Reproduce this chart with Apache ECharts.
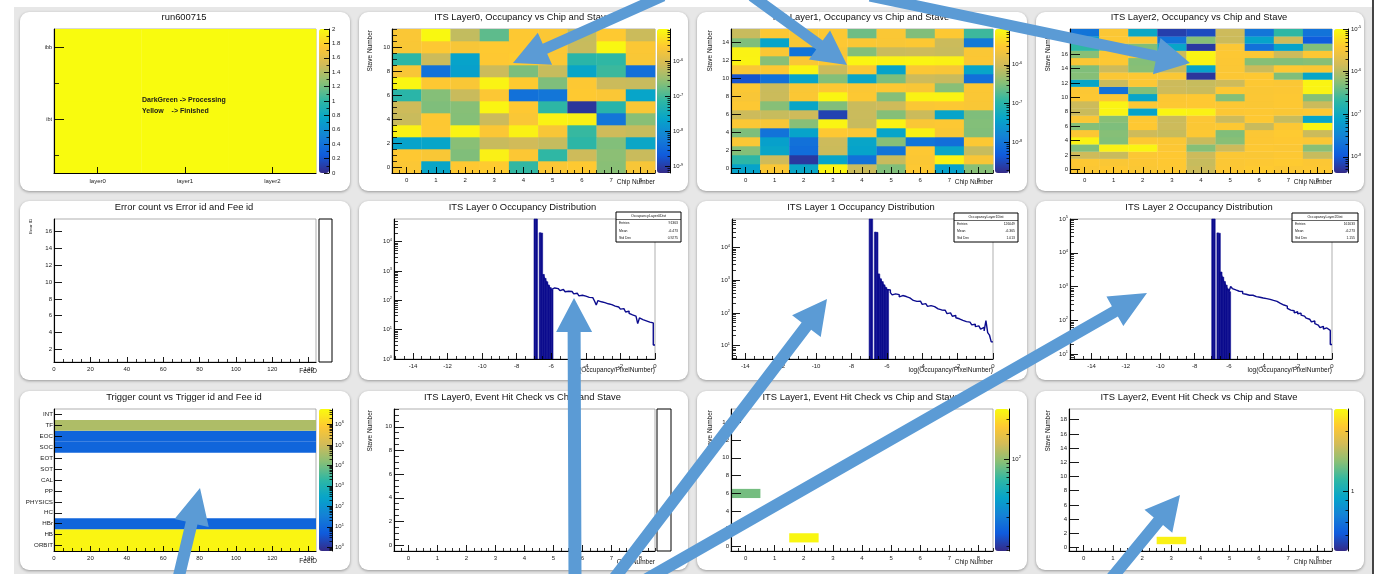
<!DOCTYPE html>
<html>
<head>
<meta charset="utf-8">
<title>ITS QC overview run600715</title>
<script src="https://cdn.jsdelivr.net/npm/echarts@6.0.0/dist/echarts.min.js"></script>
<style>
html,body{margin:0;padding:0;background:#fff;overflow:hidden;}
#page{position:relative;width:1380px;height:574px;}
#bg{position:absolute;left:14px;top:7px;width:1358px;height:567px;background:#e7e7e7;}
#edge{position:absolute;left:1372px;top:0;width:2px;height:574px;background:#444;}
.card{position:absolute;background:#fff;border-radius:9px;box-shadow:0 1px 3px rgba(0,0,0,0.35);}
#c{position:absolute;left:0;top:0;width:1380px;height:574px;}
</style>
</head>
<body>
<div id="page"><div id="bg"></div><div id="edge"></div><div id="c"></div></div>
<script>
// ================= DATA =================
const PANEL_TITLES = [
  'run600715', 'ITS Layer0, Occupancy vs Chip and Stave', 'ITS Layer1, Occupancy vs Chip and Stave', 'ITS Layer2, Occupancy vs Chip and Stave',
  'Error count vs Error id and Fee id', 'ITS Layer 0 Occupancy Distribution', 'ITS Layer 1 Occupancy Distribution', 'ITS Layer 2 Occupancy Distribution',
  'Trigger count vs Trigger id and Fee id', 'ITS Layer0, Event Hit Check vs Chip and Stave', 'ITS Layer1, Event Hit Check vs Chip and Stave', 'ITS Layer2, Event Hit Check vs Chip and Stave'
];

// run status panel
const STATUS_LAYERS = ['layer0', 'layer1', 'layer2'];
const STATUS_BARRELS = ['ibt', 'ibb'];
const STATUS_IBT = [2, 2, 2];
const STATUS_IBB = [2, 2, 2];
const STATUS_NOTE = ['DarkGreen -> Processing', 'Yellow    -> Finished'];

// chip / stave occupancy maps: log10(occupancy), one row per stave (stave 0 first), one value per chip
const CHIPS = [0, 1, 2, 3, 4, 5, 6, 7, 8];
const L0_LOG10_OCC = [
  [-5.62,-7.60,-5.58,-5.55,-7.10,-5.63,-5.57,-6.60,-5.66],
  [-5.58,-5.64,-6.65,-5.18,-5.61,-7.12,-6.12,-6.58,-6.15],
  [-7.66,-7.62,-6.60,-6.16,-6.10,-6.18,-7.15,-6.64,-7.58],
  [-5.16,-5.60,-5.14,-5.62,-5.17,-5.65,-7.08,-6.11,-6.17],
  [-6.15,-5.59,-6.62,-6.13,-5.63,-5.16,-5.19,-8.30,-6.60],
  [-6.12,-6.66,-6.61,-5.13,-5.58,-7.14,-9.06,-7.20,-5.64],
  [-7.18,-6.62,-6.15,-5.61,-8.38,-8.30,-5.57,-5.63,-7.62],
  [-5.12,-5.59,-5.64,-5.15,-5.56,-6.66,-5.60,-6.14,-6.16],
  [-5.65,-8.36,-7.70,-6.13,-6.68,-6.17,-7.60,-7.05,-8.40],
  [-7.15,-6.13,-7.66,-5.58,-5.55,-5.62,-7.18,-7.12,-5.64],
  [-5.64,-5.60,-5.66,-5.57,-5.58,-5.61,-6.16,-5.11,-5.62],
  [-5.63,-5.10,-6.20,-6.85,-5.59,-5.62,-6.18,-5.57,-6.14]
];
const L1_LOG10_OCC = [
  [-7.40,-5.58,-7.35,-5.14,-6.05,-6.50,-5.55,-7.42,-6.46],
  [-6.95,-6.02,-8.65,-7.38,-8.05,-6.06,-5.57,-5.16,-5.60],
  [-6.48,-7.36,-8.10,-6.04,-7.40,-8.02,-5.55,-7.35,-6.07],
  [-5.58,-7.44,-8.06,-6.03,-7.37,-6.47,-8.00,-8.08,-5.56],
  [-6.52,-8.03,-7.41,-5.54,-5.59,-7.38,-5.17,-5.58,-6.50],
  [-5.57,-5.61,-6.46,-5.14,-6.06,-5.16,-5.58,-5.55,-6.49],
  [-6.03,-6.07,-6.02,-8.55,-6.05,-6.48,-6.04,-7.39,-6.51],
  [-5.55,-6.47,-7.36,-6.50,-6.05,-6.02,-5.58,-5.56,-5.59],
  [-5.60,-6.04,-5.57,-5.13,-5.56,-6.48,-5.16,-5.15,-5.58],
  [-5.57,-6.05,-5.59,-5.55,-5.58,-5.56,-5.60,-6.46,-5.57],
  [-8.40,-8.06,-7.38,-6.49,-7.36,-6.52,-6.03,-6.06,-8.08],
  [-5.59,-5.56,-5.14,-6.04,-5.58,-7.40,-5.57,-5.60,-7.37],
  [-5.15,-6.46,-5.58,-5.56,-5.13,-5.16,-5.14,-5.17,-5.57],
  [-5.16,-5.57,-8.03,-5.60,-6.49,-6.05,-6.03,-6.06,-5.58],
  [-6.51,-7.39,-5.58,-5.55,-5.57,-5.59,-5.56,-6.04,-7.95],
  [-6.06,-5.57,-5.59,-5.56,-6.60,-5.58,-6.50,-5.55,-6.85]
];
const L2_LOG10_OCC = [
  [-5.45,-5.42,-5.46,-5.43,-5.88,-5.44,-5.41,-5.45,-5.43],
  [-5.43,-5.46,-5.44,-5.42,-5.90,-5.45,-5.43,-5.41,-5.44],
  [-5.86,-5.89,-5.44,-5.42,-5.87,-5.45,-5.46,-5.43,-5.90],
  [-6.30,-5.08,-5.06,-5.44,-6.27,-5.87,-5.43,-5.45,-6.25],
  [-5.07,-6.29,-5.43,-5.46,-5.89,-6.26,-5.44,-5.42,-5.45],
  [-5.44,-6.27,-5.86,-5.90,-5.43,-6.30,-5.45,-5.41,-5.88],
  [-6.28,-6.31,-5.42,-5.87,-5.45,-5.43,-5.89,-5.44,-5.06],
  [-5.46,-6.26,-5.43,-5.88,-5.44,-5.86,-5.42,-5.90,-7.10],
  [-5.89,-5.06,-7.12,-5.05,-5.08,-5.44,-5.43,-5.46,-5.42],
  [-5.87,-5.07,-5.45,-5.43,-5.42,-5.44,-5.46,-5.43,-5.88],
  [-5.43,-5.45,-7.09,-5.44,-5.42,-6.28,-5.45,-5.43,-6.27],
  [-5.44,-7.72,-6.29,-5.86,-5.89,-5.43,-5.46,-5.44,-5.07],
  [-7.08,-5.88,-5.44,-5.87,-5.90,-5.86,-5.43,-5.45,-5.06],
  [-6.27,-5.45,-5.43,-5.46,-8.28,-5.44,-5.42,-6.30,-7.10],
  [-6.30,-5.87,-6.26,-5.89,-7.12,-5.45,-5.88,-5.43,-5.46],
  [-5.45,-5.43,-6.28,-5.86,-5.07,-5.44,-6.27,-6.29,-6.26],
  [-6.26,-5.44,-5.46,-5.88,-5.06,-5.43,-5.45,-5.87,-5.44],
  [-6.69,-6.28,-6.30,-7.09,-8.25,-5.45,-7.72,-7.12,-6.29],
  [-7.10,-5.43,-5.46,-7.70,-6.27,-5.88,-7.12,-5.86,-7.95],
  [-7.68,-5.45,-7.05,-8.20,-8.10,-5.87,-7.66,-6.69,-7.70]
];

// occupancy distributions: counts per bin of log(Occupancy/PixelNumber), bins of 0.1 starting at -7.0
const DIST_FIRST_EDGE = -7.0;
const DIST_BIN_WIDTH = 0.1;
const DIST_FILLED_BINS = 11;   // bins drawn filled (spikes and first block)
const DIST_OUTLINE_FROM = 5;   // first bin of the outlined tail
const L0_DIST_COUNTS = [90000,85000,0,20000,19500,760,560,430,330,270,230,
  263,240,251,229,214,234,209,195,204,186,200,178,166,174,155,141,148,132,138,120,
  126,112,123,107,95,69,98,89,93,83,87,76,81,71,74,63,68,59,55,50,
  52,46,40,43,36,32,34,29,26,16,25,22,24,20,22,18,21,17,3];
const L1_DIST_COUNTS = [120000,110000,0,29500,29000,1550,1100,900,720,600,520,
  501,417,355,380,331,363,309,339,295,316,275,288,251,240,257,224,214,229,200,182,
  191,170,158,166,148,155,138,132,141,123,115,120,105,95,100,87,79,83,71,66,
  69,59,63,54,50,52,46,43,45,38,40,35,32,36,28,58,25,21,13];
const L2_DIST_COUNTS = [200000,190000,0,38900,38000,2690,1900,1400,1100,850,700,
  1000,871,794,832,724,676,708,617,589,617,550,525,550,490,501,468,479,447,457,427,
  437,407,417,380,389,355,363,331,316,302,282,251,263,224,200,214,191,166,178,155,
  162,141,132,138,115,107,102,89,95,79,72,69,60,66,55,59,52,50,19];
const STAT_LABELS = ['Entries', 'Mean', 'Std Dev'];
const STAT_NAMES = ['OccupancyLayer0Dist', 'OccupancyLayer1Dist', 'OccupancyLayer2Dist'];
const L0_STATS = ['91363', '-6.473', '0.9275'];
const L1_STATS = ['126049', '-6.365', '1.013'];
const L2_STATS = ['161633', '-6.273', '1.155'];

// trigger counts per trigger type (same for every Fee id 0..143)
const TRIGGER_NAMES = ['ORBIT', 'HB', 'HBr', 'HC', 'PHYSICS', 'PP', 'CAL', 'SOT', 'EOT', 'SOC', 'EOC', 'TF', 'INT'];
const TRIGGER_COUNTS = [4500000, 4500000, 8, 0, 0, 0, 0, 0, 0, 8, 8, 40000, 0];
const FEE_ID_RANGE = [0, 144];

// event hit check (non-empty cells)
const L1_HIT_CHIP = [0, 2];
const L1_HIT_STAVE = [6, 1];
const L1_HIT_COUNT = [83, 380];
const L2_HIT_CHIP = [3];
const L2_HIT_STAVE = [1];
const L2_HIT_COUNT = [2.5];

// ================= STYLE / HELPERS =================
const FONT = '"Liberation Sans", Arial, Helvetica, sans-serif';
const BIRD = ['#352a87','#0f5cdd','#1481d6','#06a4ca','#2eb7a4','#87bf77','#d1bb59','#fec832','#f9fb0e'];
const NAVY = '#0c0c8e';
const ARROW_COLOR = '#5b9bd5';
const RICH = {
  n: {fontSize: 6, fontFamily: FONT, color: '#222', lineHeight: 8},
  s: {fontSize: 4, fontFamily: FONT, color: '#222', verticalAlign: 'top', lineHeight: 4}
};
const SUP = e => '{n|10}{s|' + e + '}';

const CARDS = [
  [20,12,330,179],[359,12,329,179],[697,12,330,179],[1036,12,328,179],
  [20,201,330,179],[359,201,329,179],[697,201,330,179],[1036,201,328,179],
  [20,391,330,179],[359,391,329,179],[697,391,330,179],[1036,391,328,179]
];
CARDS.forEach(r => {
  const d = document.createElement('div');
  d.className = 'card';
  d.style.left = r[0] + 'px'; d.style.top = r[1] + 'px';
  d.style.width = r[2] + 'px'; d.style.height = r[3] + 'px';
  document.getElementById('page').insertBefore(d, document.getElementById('c'));
});

const grid = [], xAxis = [], yAxis = [], series = [], visualMap = [], graphic = [];

function range(a, b, step) { const out = []; for (let i = 0; a + i * step <= b + 1e-9; i++) out.push(+(a + i * step).toFixed(4)); return out; }
function without(arr, ex) { return arr.filter(v => !ex.some(e => Math.abs(e - v) < 1e-6)); }
function logMinors(lo, hi) {
  const out = [];
  for (let n = Math.floor(lo) - 1; n <= Math.ceil(hi); n++)
    for (let k = 2; k <= 9; k++) { const v = n + Math.log10(k); if (v >= lo && v <= hi) out.push(v); }
  return out;
}
function rawLogMinors(lo, hi) {
  const out = [];
  for (let n = Math.floor(Math.log10(lo)) - 1; n <= Math.ceil(Math.log10(hi)); n++)
    for (let k = 2; k <= 9; k++) { const v = k * Math.pow(10, n); if (v >= lo && v <= hi) out.push(v); }
  return out;
}
function addGrid(r, show) {
  grid.push({left: r[0], top: r[1], width: r[2], height: r[3], show: show !== false, borderColor: '#8c8c8c', borderWidth: 0.7,
    backgroundColor: 'rgba(0,0,0,0)', containLabel: false, outerBoundsMode: 'none'});
  return grid.length - 1;
}
function axisPair(dim, gi, o) {
  const list = dim === 'x' ? xAxis : yAxis;
  const main = {
    gridIndex: gi, type: o.type || 'value', min: o.min, max: o.max, position: o.pos,
    axisLine: {show: o.line !== false, onZero: false, lineStyle: {color: '#000', width: o.lw || 1.1}},
    axisTick: (o.majors && o.majors.length) ? {show: true, inside: true, length: o.majLen || 5, customValues: o.majors, lineStyle: {color: '#000', width: 0.9}} : {show: false},
    axisLabel: o.labels ? {show: true, customValues: o.labels, formatter: o.fmt, fontSize: o.fs || 6, fontFamily: FONT, color: '#222', margin: o.margin == null ? 3 : o.margin, rich: RICH} : {show: false},
    splitLine: {show: false}, splitArea: {show: false}, minorTick: {show: false}, z: 10, silent: true
  };
  if (o.type === 'log') main.logBase = 10;
  list.push(main);
  const idx = list.length - 1;
  if (o.minors && o.minors.length) {
    const sec = Object.assign({}, main, {
      axisLine: {show: false, onZero: false},
      axisTick: {show: true, inside: true, length: o.minLen || 2.5, customValues: o.minors, lineStyle: {color: '#000', width: 0.8}},
      axisLabel: {show: false}
    });
    list.push(sec);
  }
  return idx;
}
function colorbar(rect, o) {
  const g = addGrid(rect, false);
  xAxis.push({gridIndex: g, type: 'value', show: false, min: 0, max: 1, axisLine: {onZero: false}});
  axisPair('y', g, Object.assign({pos: 'right', majLen: 5, minLen: 2.5, margin: 3, lw: 1}, o));
}
function vm(si, dim, min, max, r) {
  return {type: 'continuous', seriesIndex: si, dimension: dim, min: min, max: max, inRange: {color: BIRD},
    orient: 'vertical', left: r[0], top: r[1], itemWidth: r[2], itemHeight: r[3], calculable: false,
    hoverLink: false, realtime: false, padding: 0, text: null, z: 4};
}
function cellSeries(xi, yi, data, w, h) {
  return {type: 'custom', xAxisIndex: xi, yAxisIndex: yi, data: data, encode: {x: 0, y: 1}, z: 2, silent: true,
    renderItem: function (params, api) {
      const x = api.value(0), y = api.value(1);
      const a = api.coord([x - w / 2, y + h / 2]), b = api.coord([x + w / 2, y - h / 2]);
      return {type: 'rect', shape: {x: a[0], y: a[1], width: b[0] - a[0] + 0.3, height: b[1] - a[1] + 0.3}, style: {fill: api.visual('color')}};
    }};
}
function txt(x, y, s, o) {
  o = o || {};
  const el = {type: 'text', x: x, y: y, silent: true, z: 20,
    style: {text: s, fontSize: o.fs || 9.5, fontFamily: FONT, fill: o.fill || '#111', align: o.align || 'center',
      verticalAlign: o.va || 'middle', fontWeight: o.fw || 'normal'}};
  if (o.rot) el.rotation = o.rot;
  graphic.push(el);
}
function yTitle(x, yTop, s, fs) { txt(x, yTop, s, {fs: fs || 6.5, align: 'right', rot: Math.PI / 2}); }
function emptyBox(r) {
  graphic.push({type: 'rect', shape: {x: r[0], y: r[1], width: r[2], height: r[3]}, style: {fill: '#fff', stroke: '#000', lineWidth: 1}, z: 5, silent: true});
}
function statBox(x, y, w, h, name, vals) {
  const hh = 7.5, rh = (h - hh) / 3;
  graphic.push({type: 'rect', shape: {x: x, y: y, width: w, height: h}, style: {fill: '#fff', stroke: '#000', lineWidth: 1}, z: 15, silent: true});
  graphic.push({type: 'line', shape: {x1: x, y1: y + hh, x2: x + w, y2: y + hh}, style: {stroke: '#000', lineWidth: 0.6}, z: 16, silent: true});
  txt(x + w / 2, y + hh / 2, name, {fs: 3.6});
  STAT_LABELS.forEach((lab, k) => {
    const yy = y + hh + rh * (k + 0.5);
    txt(x + 3, yy, lab, {fs: 3.4, align: 'left'});
    txt(x + w - 3, yy, vals[k], {fs: 3.4, align: 'right'});
  });
}

const CHIP_MINORS = without(range(-0.5, 8.5, 0.25), CHIPS);
function chipX(g) {
  return axisPair('x', g, {min: -0.5, max: 8.5, pos: 'bottom', labels: CHIPS, majors: CHIPS, majLen: 6, minors: CHIP_MINORS, minLen: 3, margin: 4});
}
function staveY(g, n, withMinors) {
  const majors = range(0, n - 1, 2);
  return axisPair('y', g, {min: -0.5, max: n - 0.5, pos: 'left', labels: majors, majors: majors, majLen: 10,
    minors: withMinors ? without(range(-0.5, n - 0.5, 0.5), majors) : null, minLen: 5, margin: 2});
}
function occPanel(rect, cb, rows, minors, lo, hi) {
  const g = addGrid(rect);
  const xi = chipX(g), yi = staveY(g, rows.length, minors);
  const data = [];
  rows.forEach((row, s) => row.forEach((v, c) => data.push([CHIPS[c], s, v])));
  const si = series.length;
  series.push(cellSeries(xi, yi, data, 1, 1));
  visualMap.push(vm(si, 2, lo, hi, cb));
  const labs = range(Math.ceil(lo), Math.floor(hi), 1);
  colorbar(cb, {min: lo, max: hi, labels: labs, fmt: v => SUP(Math.round(v)), majors: labs, minors: logMinors(lo, hi)});
}
function distPanel(rect, xmin, ymin, ymax, counts) {
  const g = addGrid(rect);
  const xl = range(-14, 0, 2);
  const xi = axisPair('x', g, {min: xmin, max: 0, pos: 'bottom', labels: xl, majors: xl, majLen: 6,
    minors: without(range(-15, 0, 0.5), xl).filter(v => v >= xmin), minLen: 3, margin: 4});
  const decades = [1, 10, 100, 1000, 10000, 100000].filter(v => v >= ymin && v <= ymax);
  const yi = axisPair('y', g, {type: 'log', min: ymin, max: ymax, pos: 'left', labels: decades,
    fmt: v => SUP(Math.round(Math.log10(v))), majors: decades, majLen: 8, minors: rawLogMinors(ymin, ymax), minLen: 4, margin: 2});
  const fill = [], outline = [];
  counts.forEach((c, i) => {
    const x0 = +(DIST_FIRST_EDGE + i * DIST_BIN_WIDTH).toFixed(2);
    const x1 = +(x0 + DIST_BIN_WIDTH).toFixed(2);
    if (c > 0 && i < DIST_FILLED_BINS) fill.push([x0, x1, c]);
    if (i >= DIST_OUTLINE_FROM) outline.push([x0, c]);
  });
  outline.push([0, counts[counts.length - 1]]);
  series.push({type: 'custom', xAxisIndex: xi, yAxisIndex: yi, data: fill, encode: {x: [0, 1], y: 2}, z: 3, silent: true,
    renderItem: function (params, api) {
      const a = api.coord([api.value(0), api.value(2)]);
      const b = api.coord([api.value(1), ymin]);
      const cs = params.coordSys;
      const r = echarts.graphic.clipRectByRect({x: a[0], y: a[1], width: b[0] - a[0], height: b[1] - a[1]},
        {x: cs.x, y: cs.y, width: cs.width, height: cs.height});
      return r ? {type: 'rect', shape: r, style: {fill: NAVY, stroke: NAVY, lineWidth: 0.6}} : null;
    }});
  series.push({type: 'line', xAxisIndex: xi, yAxisIndex: yi, data: outline, step: 'end', symbol: 'none',
    lineStyle: {color: NAVY, width: 1.4}, clip: true, z: 3, silent: true});
}
const FEE_LABELS = range(0, 140, 20);
function feeX(g) {
  return axisPair('x', g, {min: FEE_ID_RANGE[0], max: FEE_ID_RANGE[1], pos: 'bottom', labels: FEE_LABELS, majors: FEE_LABELS, majLen: 5,
    minors: without(range(0, 140, 5), FEE_LABELS), minLen: 3, margin: 4});
}

// ================= PANELS =================
// P1 run status
(function () {
  const g = addGrid([54, 29, 262, 144]);
  const xi = axisPair('x', g, {min: 0, max: 3, pos: 'bottom', labels: [0.5, 1.5, 2.5], fmt: v => STATUS_LAYERS[Math.floor(v)], majors: [0.5, 1.5, 2.5], majLen: 6, margin: 5});
  const yi = axisPair('y', g, {min: 0, max: 4, pos: 'left', labels: [1.5, 3.5], fmt: v => STATUS_BARRELS[Math.round((v - 1.5) / 2)], majors: [1.5, 3.5], majLen: 10, minors: [0.5, 2.5], minLen: 5, margin: 2, fs: 5.5});
  const data = [];
  STATUS_LAYERS.forEach((l, i) => { data.push([i + 0.5, 1, STATUS_IBT[i]]); data.push([i + 0.5, 3, STATUS_IBB[i]]); });
  const si = series.length;
  series.push(cellSeries(xi, yi, data, 1, 2));
  visualMap.push(vm(si, 2, 0, 2, [319, 29, 10, 144]));
  const labs = range(0, 2, 0.2);
  colorbar([319, 29, 10, 144], {min: 0, max: 2, labels: labs, fmt: v => String(+v.toFixed(1)), majors: labs, minors: without(range(0, 2, 0.1), labs)});
  txt(142, 100, STATUS_NOTE[0], {fs: 7, fw: 'bold', align: 'left', fill: '#1a1a1a'});
  txt(142, 111, STATUS_NOTE[1], {fs: 7, fw: 'bold', align: 'left', fill: '#1a1a1a'});
})();
// P2-P4 occupancy maps
occPanel([392, 29, 263, 144], [657, 29, 13, 144], L0_LOG10_OCC, true, -9.18, -5.07);
occPanel([731, 29, 262, 144], [995, 29, 14, 144], L1_LOG10_OCC, false, -8.78, -5.08);
occPanel([1070, 29, 262, 144], [1334, 29, 14, 144], L2_LOG10_OCC, false, -8.38, -5.0);
// P5 error counts (empty)
(function () {
  const g = addGrid([54, 219, 262, 143]);
  feeX(g);
  const yl = range(2, 16, 2);
  axisPair('y', g, {min: 0.5, max: 17.5, pos: 'left', labels: yl, majors: yl, majLen: 8, margin: 2});
  emptyBox([319, 219, 13, 143]);
})();
// P6-P8 occupancy distributions
distPanel([394, 219, 261, 140], -15.1, 1, Math.pow(10, 4.77), L0_DIST_COUNTS);
distPanel([732, 219, 261, 140], -14.75, Math.pow(10, 0.59), Math.pow(10, 4.87), L1_DIST_COUNTS);
distPanel([1070, 219, 262, 140], -15.25, Math.pow(10, 0.85), 100500, L2_DIST_COUNTS);
statBox(616, 212, 65, 30, STAT_NAMES[0], L0_STATS);
statBox(954, 213, 64, 29, STAT_NAMES[1], L1_STATS);
statBox(1292, 213, 66, 29, STAT_NAMES[2], L2_STATS);
// P9 trigger counts
(function () {
  const g = addGrid([54, 409, 262, 142]);
  const xi = feeX(g);
  const yl = range(0, 12, 1);
  const yi = axisPair('y', g, {min: -0.5, max: 12.5, pos: 'left', labels: yl, fmt: v => TRIGGER_NAMES[Math.round(v)], majors: yl, majLen: 8, margin: 1, fs: 6.2});
  const data = [];
  TRIGGER_COUNTS.forEach((c, i) => { if (c > 0) data.push([FEE_ID_RANGE[0], FEE_ID_RANGE[1], i, Math.log10(c)]); });
  const si = series.length;
  series.push({type: 'custom', xAxisIndex: xi, yAxisIndex: yi, data: data, encode: {x: [0, 1], y: 2}, z: 2, silent: true,
    renderItem: function (params, api) {
      const a = api.coord([api.value(0), api.value(2) + 0.5]), b = api.coord([api.value(1), api.value(2) - 0.5]);
      return {type: 'rect', shape: {x: a[0], y: a[1], width: b[0] - a[0], height: b[1] - a[1]}, style: {fill: api.visual('color')}};
    }});
  visualMap.push(vm(si, 3, -0.18, 6.75, [319, 409, 13, 142]));
  const labs = range(0, 6, 1);
  colorbar([319, 409, 13, 142], {min: -0.18, max: 6.75, labels: labs, fmt: v => SUP(Math.round(v)), majors: labs, minors: logMinors(-0.18, 6.75)});
})();
// P10 layer0 event hit check (empty)
(function () {
  const g = addGrid([394, 409, 261, 142]);
  chipX(g); staveY(g, 12, true);
  emptyBox([657, 409, 14, 142]);
})();
// P11 / P12 event hit checks
function hitPanel(rect, cb, nStaves, chips, staves, counts, lo, hi, labs, fmt) {
  const g = addGrid(rect);
  const xi = chipX(g), yi = staveY(g, nStaves, false);
  const data = chips.map((c, k) => [c, staves[k], Math.log10(counts[k])]);
  const si = series.length;
  series.push(cellSeries(xi, yi, data, 1, 1));
  visualMap.push(vm(si, 2, lo, hi, cb));
  colorbar(cb, {min: lo, max: hi, labels: labs, fmt: fmt, majors: labs, minors: logMinors(lo, hi)});
}
hitPanel([731, 409, 262, 142], [995, 409, 14, 142], 16, L1_HIT_CHIP, L1_HIT_STAVE, L1_HIT_COUNT, 0.9, 2.6, [2], v => SUP(Math.round(v)));
hitPanel([1069, 409, 263, 142], [1334, 409, 14, 142], 20, L2_HIT_CHIP, L2_HIT_STAVE, L2_HIT_COUNT, -0.301, 0.415, [0], v => '1');

// ================= TEXTS =================
const TITLE_X = [184, 522.5, 861, 1199];
const TITLE_Y = [17.5, 207.5, 397.5];
PANEL_TITLES.forEach((t, i) => txt(TITLE_X[i % 4], TITLE_Y[Math.floor(i / 4)], t, {fs: 9.4}));
yTitle(370, 30, 'Stave Number'); txt(655, 182.5, 'Chip Number', {fs: 6.5, align: 'right'});
yTitle(710, 30, 'Stave Number'); txt(993, 182.5, 'Chip Number', {fs: 6.5, align: 'right'});
yTitle(1048, 30, 'Stave Number'); txt(1332, 182.5, 'Chip Number', {fs: 6.5, align: 'right'});
yTitle(31, 219, 'Error ID', 4.2); txt(317, 371, 'FeeID', {fs: 6.5, align: 'right'});
txt(655, 370, 'log(Occupancy/PixelNumber)', {fs: 6.5, align: 'right'});
txt(993, 370, 'log(Occupancy/PixelNumber)', {fs: 6.5, align: 'right'});
txt(1332, 370, 'log(Occupancy/PixelNumber)', {fs: 6.5, align: 'right'});
txt(317, 561, 'FeeID', {fs: 6.5, align: 'right'});
yTitle(370, 410, 'Stave Number'); txt(655, 562.5, 'Chip Number', {fs: 6.5, align: 'right'});
yTitle(710, 410, 'Stave Number'); txt(993, 562.5, 'Chip Number', {fs: 6.5, align: 'right'});
yTitle(1048, 410, 'Stave Number'); txt(1332, 562.5, 'Chip Number', {fs: 6.5, align: 'right'});

// ================= ANNOTATION ARROWS =================
function arrowPoints(tail, tip, w, L, Hh) {
  const dx = tip[0] - tail[0], dy = tip[1] - tail[1], len = Math.hypot(dx, dy);
  const ux = dx / len, uy = dy / len, nx = -uy, ny = ux;
  const bx = tip[0] - ux * L, by = tip[1] - uy * L;
  return [[tail[0] + nx * w / 2, tail[1] + ny * w / 2], [bx + nx * w / 2, by + ny * w / 2], [bx + nx * Hh, by + ny * Hh], tip,
          [bx - nx * Hh, by - ny * Hh], [bx - nx * w / 2, by - ny * w / 2], [tail[0] - nx * w / 2, tail[1] - ny * w / 2]];
}
const ARROWS = [
  [[663, -4], [513, 63], 11, 35, 17.5],
  [[752, -4], [847, 65], 11, 34, 18],
  [[870, -4], [1190, 63], 11, 34, 18.5],
  [[178, 580], [200, 488], 12, 36, 17.6],
  [[575, 580], [574, 298], 13, 34, 18],
  [[613, 580], [827, 299], 12, 34, 18],
  [[645, 580], [1147, 293], 12, 37, 17],
  [[1110, 580], [1180, 495], 12, 34, 18]
];
ARROWS.forEach(a => graphic.push({type: 'polygon', shape: {points: arrowPoints(a[0], a[1], a[2], a[3], a[4])},
  style: {fill: ARROW_COLOR}, z: 100, zlevel: 1, silent: true}));

// ================= RENDER =================
const chart = echarts.init(document.getElementById('c'), null, {renderer: 'canvas'});
chart.setOption({
  animation: false,
  backgroundColor: 'rgba(0,0,0,0)',
  textStyle: {fontFamily: FONT},
  tooltip: {show: false},
  grid: grid, xAxis: xAxis, yAxis: yAxis, series: series, visualMap: visualMap,
  graphic: {elements: graphic}
});
</script>
</body>
</html>
